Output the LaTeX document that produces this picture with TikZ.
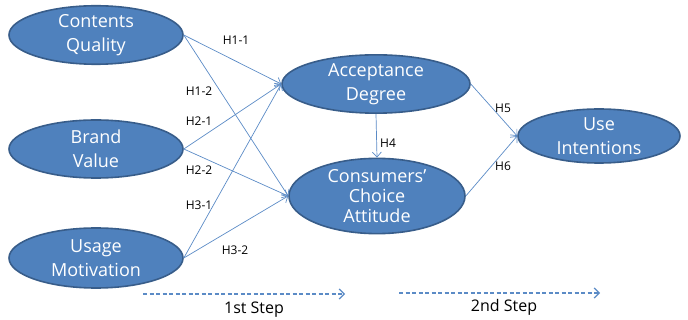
\documentclass[tikz,border=0pt]{standalone}
\usepackage{fontspec}
\setmainfont{Open Sans}
\usetikzlibrary{shapes.geometric,arrows.meta}
\definecolor{efill}{HTML}{4F81BD}
\definecolor{eline}{HTML}{385D8A}
\definecolor{aline}{HTML}{5B8BC6}
\begin{document}
\begin{tikzpicture}[x=1pt,y=-1pt,
  ell/.style={ellipse,draw=eline,line width=1.6pt,fill=efill,text=white,inner sep=0pt,align=center,font=\fontsize{18}{24}\selectfont},
  conn/.style={draw=aline,line width=0.7pt,-{Straight Barb[length=5pt,width=9pt]}},
  lab/.style={font=\fontsize{12}{14}\selectfont,text=black,inner sep=0pt},
  stepar/.style={draw=aline,line width=1.2pt,dashed,dash pattern=on 4pt off 2.5pt,-{Straight Barb[length=5pt,width=10pt]}},
  steplab/.style={font=\fontsize{16}{18}\selectfont,inner sep=0pt}]
\useasboundingbox (0,0) rectangle (688,320);
\node[ell,minimum width=174pt,minimum height=58pt] (cq) at (96,35) {Contents\\Quality};
\node[ell,minimum width=174pt,minimum height=58pt] (bv) at (96,149) {Brand\\Value};
\node[ell,minimum width=174pt,minimum height=60pt] (um) at (96,258) {Usage\\Motivation};
\node[ell,minimum width=188pt,minimum height=58pt] (ad) at (376,84) {Acceptance\\Degree};
\node[ell,minimum width=176pt,minimum height=64pt,font=\fontsize{18}{20}\selectfont] (cc) at (377,196) {Consumers'\\Choice\\Attitude};
\node[ell,minimum width=162pt,minimum height=54pt] (ui) at (599,136) {Use\\Intentions};

\draw[conn] (cq.east) -- (ad.west);
\draw[conn] (cq.east) -- (cc.west);
\draw[conn] (bv.east) -- (ad.west);
\draw[conn] (bv.east) -- (cc.west);
\draw[conn] (um.east) -- (ad.west);
\draw[conn] (um.east) -- (cc.west);
\draw[conn] (ad.south) -- (cc.north);
\draw[conn] (ad.east) -- (ui.west);
\draw[conn] (cc.east) -- (ui.west);

\node[lab] (l11) at (236,40) {H1-1};
\node[lab] (l12) at (199,91) {H1-2};
\node[lab] (l21) at (199,121) {H2-1};
\node[lab] (l22) at (199,170) {H2-2};
\node[lab] (l31) at (199,205) {H3-1};
\node[lab] (l32) at (235,250) {H3-2};
\node[lab] (l4) at (388,143) {H4};
\node[lab] (l5) at (503,108) {H5};
\node[lab] (l6) at (503,166) {H6};

\coordinate (s1a) at (143,294);
\coordinate (s1b) at (345,294);
\coordinate (s2a) at (399,293);
\coordinate (s2b) at (600,293);
\draw[stepar] (s1a) -- (s1b);
\draw[stepar] (s2a) -- (s2b);
\node[steplab] (t1) at (254,310) {1st Step};
\node[steplab] (t2) at (504,307) {2nd Step};
\end{tikzpicture}
\end{document}
